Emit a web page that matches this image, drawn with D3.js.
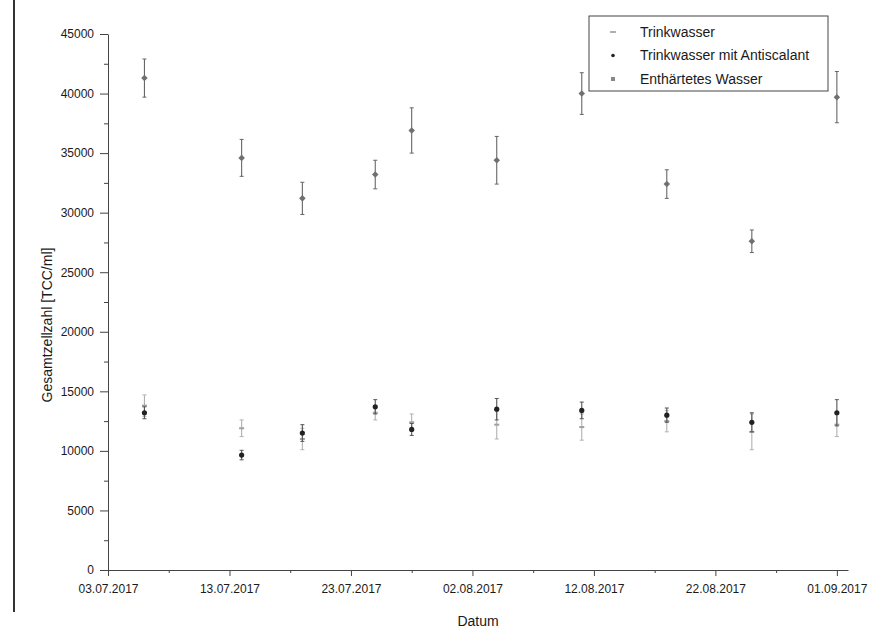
<!DOCTYPE html>
<html>
<head>
<meta charset="utf-8">
<script src="https://cdn.jsdelivr.net/npm/d3@7"></script>
<style>
  html, body { margin: 0; padding: 0; background: #fff; }
  svg { display: block; font-family: "Liberation Sans", Arial, sans-serif; }
</style>
</head>
<body>
<svg id="chart" width="887" height="630"></svg>
<script>
const dates = ['06.07.2017', '14.07.2017', '19.07.2017', '25.07.2017', '28.07.2017',
               '04.08.2017', '11.08.2017', '18.08.2017', '25.08.2017', '01.09.2017'];
const trinkwasser    = [13800, 11900, 11000, 13200, 12400, 12200, 12000, 12500, 11600, 12200];
const trinkwasserErr = [900, 700, 900, 600, 700, 1200, 1100, 900, 1500, 1000];
const antiscalant    = [13200, 9650, 11500, 13700, 11800, 13500, 13400, 13000, 12400, 13200];
const antiscalantErr = [500, 400, 700, 600, 500, 900, 700, 600, 800, 1100];
const enthaertet     = [41300, 34600, 31200, 33200, 36900, 34400, 40000, 32400, 27600, 39700];
const enthaertetErr  = [1600, 1550, 1350, 1200, 1900, 2000, 1750, 1200, 950, 2150];

const xTickLabels = ['03.07.2017', '13.07.2017', '23.07.2017', '02.08.2017',
                     '12.08.2017', '22.08.2017', '01.09.2017'];
const yTicks = [0, 5000, 10000, 15000, 20000, 25000, 30000, 35000, 40000, 45000];

const seriesNames = ['Trinkwasser', 'Trinkwasser mit Antiscalant', 'Enthärtetes Wasser'];

const parse = d3.utcParse('%d.%m.%Y');
const fmt = d3.utcFormat('%d.%m.%Y');

const svg = d3.select('#chart');
const plot = { left: 108, right: 848, top: 34, bottom: 570 };

// scan border on the left
svg.append('line')
  .attr('x1', 14).attr('x2', 14).attr('y1', 0).attr('y2', 612)
  .attr('stroke', '#333').attr('stroke-width', 2);

const x = d3.scaleUtc()
  .domain([parse('03.07.2017'), d3.utcHour.offset(parse('01.09.2017'), 22)])
  .range([plot.left, plot.right]);
const y = d3.scaleLinear().domain([0, 45000]).range([plot.bottom, plot.top]);

// --- axes ---
const xAxis = d3.axisBottom(x)
  .tickValues(xTickLabels.map(parse))
  .tickFormat(fmt)
  .tickSize(6).tickSizeOuter(0).tickPadding(8);
svg.append('g').attr('transform', `translate(0,${plot.bottom})`).call(xAxis);

const minorX = d3.utcDay.range(parse('03.07.2017'), parse('02.09.2017'), 1)
  .filter((d, i) => i % 5 === 0 && i % 10 !== 0);
svg.append('g').attr('transform', `translate(0,${plot.bottom})`)
  .call(d3.axisBottom(x).tickValues(minorX).tickSize(3).tickSizeOuter(0).tickFormat(''))
  .select('.domain').remove();

const yAxis = d3.axisLeft(y)
  .tickValues(yTicks)
  .tickFormat(d3.format('d'))
  .tickSize(8).tickSizeOuter(0).tickPadding(6);
svg.append('g').attr('transform', `translate(${plot.left},0)`).call(yAxis);

const minorY = d3.range(2500, 45000, 5000);
svg.append('g').attr('transform', `translate(${plot.left},0)`)
  .call(d3.axisLeft(y).tickValues(minorY).tickSize(4).tickFormat(''))
  .select('.domain').remove();

svg.selectAll('.domain, .tick line').attr('stroke', '#444');
svg.selectAll('.tick text').attr('fill', '#1a1a1a').attr('font-size', 12)
  .attr('font-family', '"Liberation Sans", Arial, sans-serif');

// axis titles
svg.append('text')
  .attr('x', 478).attr('y', 626)
  .attr('text-anchor', 'middle')
  .attr('font-size', 14).attr('fill', '#1a1a1a')
  .text('Datum');

svg.append('text')
  .attr('transform', 'translate(52,325) rotate(-90)')
  .attr('text-anchor', 'middle')
  .attr('font-size', 14).attr('fill', '#1a1a1a')
  .text('Gesamtzellzahl [TCC/ml]');

// --- data ---
function buildSeries(vals, errs) {
  return dates.map((d, i) => ({ date: parse(d), v: vals[i], e: errs[i] }));
}

const series = [
  { name: seriesNames[0], data: buildSeries(trinkwasser, trinkwasserErr), color: '#a0a0a0', err: '#b0b0b0', shape: 'dash' },
  { name: seriesNames[1], data: buildSeries(antiscalant, antiscalantErr), color: '#222', err: '#555', shape: 'dot' },
  { name: seriesNames[2], data: buildSeries(enthaertet, enthaertetErr), color: '#707070', err: '#666', shape: 'square' }
];

function drawMarker(g, shape, color) {
  if (shape === 'dash') {
    g.append('rect').attr('x', -2.5).attr('y', -1).attr('width', 5).attr('height', 2).attr('fill', color);
  } else if (shape === 'dot') {
    g.append('circle').attr('r', 2.6).attr('fill', color);
  } else {
    g.append('rect').attr('x', -2.3).attr('y', -2.3).attr('width', 4.6).attr('height', 4.6)
      .attr('fill', color).attr('transform', 'rotate(45)');
  }
}

series.forEach(s => {
  const g = svg.append('g').attr('class', 'series');
  const pts = g.selectAll('g').data(s.data).enter().append('g');

  pts.append('line')
    .attr('x1', d => x(d.date)).attr('x2', d => x(d.date))
    .attr('y1', d => y(d.v + d.e)).attr('y2', d => y(d.v - d.e))
    .attr('stroke', s.err).attr('stroke-width', 1.1);
  [1, -1].forEach(sign => {
    pts.append('line')
      .attr('x1', d => x(d.date) - 2).attr('x2', d => x(d.date) + 2)
      .attr('y1', d => y(d.v + sign * d.e)).attr('y2', d => y(d.v + sign * d.e))
      .attr('stroke', s.err).attr('stroke-width', 1);
  });

  pts.each(function (d) {
    const m = d3.select(this).append('g')
      .attr('transform', `translate(${x(d.date)},${y(d.v)})`);
    drawMarker(m, s.shape, s.color);
  });
});

// --- legend ---
const legend = svg.append('g').attr('transform', 'translate(589,16)');
legend.append('rect')
  .attr('width', 239).attr('height', 75)
  .attr('fill', '#fff').attr('stroke', '#444').attr('stroke-width', 1);

series.forEach((s, i) => {
  const row = legend.append('g').attr('transform', `translate(0,${16 + i * 23.5})`);
  const m = row.append('g').attr('transform', 'translate(24,0)');
  if (s.shape === 'dash') {
    m.append('rect').attr('x', -3).attr('y', -1).attr('width', 6).attr('height', 2).attr('fill', '#b0b0b0');
  } else if (s.shape === 'dot') {
    m.append('circle').attr('r', 1.8).attr('fill', s.color);
  } else {
    m.append('rect').attr('x', -2).attr('y', -2).attr('width', 4).attr('height', 4).attr('fill', '#888');
  }
  row.append('text')
    .attr('x', 51).attr('y', 0).attr('dy', '0.35em')
    .attr('font-size', 14).attr('fill', '#1a1a1a')
    .text(s.name);
});
</script>
</body>
</html>
